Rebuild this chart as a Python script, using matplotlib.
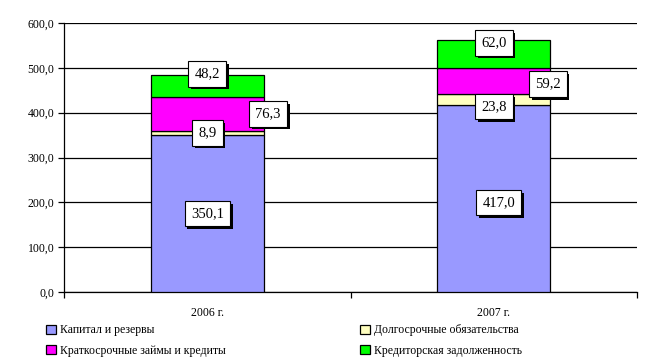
import matplotlib
matplotlib.use("Agg")
import matplotlib.pyplot as plt
import matplotlib.patheffects as pe
import numpy as np
from matplotlib.ticker import FixedLocator, FuncFormatter

categories = ["2006 г.", "2007 г."]
series_names = ["Капитал и резервы", "Долгосрочные обязательства",
                "Краткосрочные займы и кредиты", "Кредиторская задолженность"]
capital = [350.1, 417.0]
long_term = [8.9, 23.8]
short_term = [76.3, 59.2]
payables = [48.2, 62.0]
y_ticks = [0, 100, 200, 300, 400, 500, 600]

colors = ["#9999FF", "#FFFFC0", "#FF00FF", "#00FF00"]
# label offsets in pixels (dx, dy) per series, per category
offsets = [
    [(0, 0), (5, -4)],
    [(0, 0), (0, -7)],
    [(61, 0), (54, -3)],
    [(0, 12), (0, 11)],
]

plt.rcParams['font.family'] = ['Liberation Serif', 'DejaVu Serif']
fig = plt.figure(figsize=(6.48, 3.6), dpi=100)
ax = fig.add_axes([64/648, 68/360, 573/648, 269/360])

x = np.arange(len(categories))
width = 0.395
data = [capital, long_term, short_term, payables]
bottom = np.zeros(len(categories))
bars = []
for vals, col, name in zip(data, colors, series_names):
    b = ax.bar(x, vals, width, bottom=bottom, color=col, edgecolor="black",
               linewidth=0.9, label=name, zorder=3)
    bars.append(b)
    bottom = bottom + np.array(vals)

bottom = np.zeros(len(categories))
for si, vals in enumerate(data):
    for ci, v in enumerate(vals):
        yc = bottom[ci] + v / 2
        dx, dy = offsets[si][ci]
        txt = f"{v:.1f}".replace(".", ",")
        t = ax.annotate(txt, (x[ci], yc), xytext=(dx * 0.72, dy * 0.72),
                        textcoords="offset points", ha="center", va="center",
                        fontsize=10.5, color="black", zorder=6,
                        bbox=dict(boxstyle="square,pad=0.42", fc="white", ec="black", lw=0.8))
        t.get_bbox_patch().set_path_effects([
            pe.SimplePatchShadow(offset=(2, -2), shadow_rgbFace="black", alpha=1.0),
            pe.Normal()])
    bottom = bottom + np.array(vals)

ax.set_xlim(-0.5, 1.5)
ax.set_ylim(0, 600)
ax.yaxis.set_major_locator(FixedLocator(y_ticks))
ax.yaxis.set_major_formatter(FuncFormatter(lambda v, p: f"{v:.1f}".replace(".", ",")))
ax.grid(axis="y", color="black", linewidth=0.9, zorder=0)
ax.set_xticks(x)
ax.set_xticklabels(categories, fontsize=8.5)
ax.tick_params(axis="x", which="major", length=0, pad=11)
ax.set_xticks([-0.5, 0.5, 1.5], minor=True)
ax.tick_params(axis="x", which="minor", length=4, width=0.9, direction="out")
ax.tick_params(axis="y", labelsize=8.5, length=4, width=0.9, direction="out", pad=3)
for s in ["top", "right"]:
    ax.spines[s].set_visible(False)
for s in ["left", "bottom"]:
    ax.spines[s].set_linewidth(0.9)
    ax.spines[s].set_color("black")

handles = [bars[0], bars[2], bars[1], bars[3]]
labels = [series_names[0], series_names[2], series_names[1], series_names[3]]
leg = fig.legend(handles, labels, ncol=2, loc="lower left",
                 bbox_to_anchor=(35/648, -0.02), frameon=False, fontsize=8.5,
                 handlelength=0.85, handleheight=0.85, columnspacing=11.3,
                 labelspacing=0.7, handletextpad=0.4)

fig.savefig("out.png", dpi=100)
